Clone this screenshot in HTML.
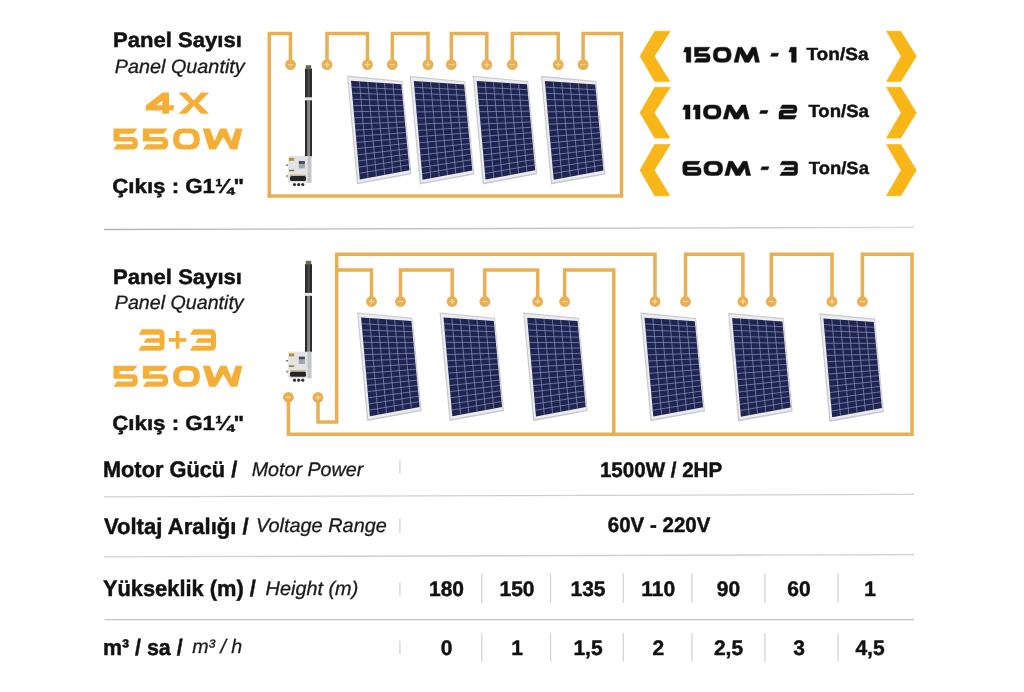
<!DOCTYPE html>
<html><head><meta charset="utf-8"><style>
html,body{margin:0;padding:0;background:#fff;}
svg{display:block;font-family:"Liberation Sans",sans-serif;filter:blur(0.5px);}
</style></head><body>
<svg width="1024" height="692" viewBox="0 0 1024 692">
<rect width="1024" height="692" fill="#ffffff"/>
<defs><linearGradient id="sg" gradientUnits="userSpaceOnUse" x1="104" y1="0" x2="914" y2="0"><stop offset="0" stop-color="#b4b4b4"/><stop offset="1" stop-color="#d6d6d6"/></linearGradient></defs>
<path d="M104,229.5 L914,227.4" stroke="url(#sg)" stroke-width="1.4"/>
<path d="M104,496.9 L914,494.4" stroke="#d0d0d0" stroke-width="1.3"/>
<path d="M104,556.9 L914,554.6" stroke="#d0d0d0" stroke-width="1.3"/>
<path d="M104.9,619.6 L914,619.6" stroke="#c6c6c6" stroke-width="1.3"/>
<path d="M399.9,460.3 L399.9,474" stroke="#d4d4d4" stroke-width="1.3"/>
<path d="M399.9,518 L399.9,533.1" stroke="#d4d4d4" stroke-width="1.3"/>
<path d="M399.9,582 L399.9,595.5" stroke="#d4d4d4" stroke-width="1.3"/>
<path d="M399.9,640.7 L399.9,654" stroke="#d4d4d4" stroke-width="1.3"/>
<path d="M481.7,573.5 L481.7,603" stroke="#d4d4d4" stroke-width="1.3"/>
<path d="M481.7,633 L481.7,661.5" stroke="#d4d4d4" stroke-width="1.3"/>
<path d="M550.5,573.5 L550.5,603" stroke="#d4d4d4" stroke-width="1.3"/>
<path d="M550.5,633 L550.5,661.5" stroke="#d4d4d4" stroke-width="1.3"/>
<path d="M623.3,573.5 L623.3,603" stroke="#d4d4d4" stroke-width="1.3"/>
<path d="M623.3,633 L623.3,661.5" stroke="#d4d4d4" stroke-width="1.3"/>
<path d="M691.9,573.5 L691.9,603" stroke="#d4d4d4" stroke-width="1.3"/>
<path d="M691.9,633 L691.9,661.5" stroke="#d4d4d4" stroke-width="1.3"/>
<path d="M764.9,573.5 L764.9,603" stroke="#d4d4d4" stroke-width="1.3"/>
<path d="M764.9,633 L764.9,661.5" stroke="#d4d4d4" stroke-width="1.3"/>
<path d="M838,573.5 L838,603" stroke="#d4d4d4" stroke-width="1.3"/>
<path d="M838,633 L838,661.5" stroke="#d4d4d4" stroke-width="1.3"/>
<path d="M269.3,196 L269.3,33.4 L290.5,33.4 L290.5,64.6" fill="none" stroke="#E9AF52" stroke-width="3.5" stroke-linejoin="miter" stroke-linecap="square"/>
<path d="M327,64.6 L327,33.4 L367.5,33.4 L367.5,64.6" fill="none" stroke="#E9AF52" stroke-width="3.5" stroke-linejoin="miter" stroke-linecap="square"/>
<path d="M392.3,64.6 L392.3,33.4 L428,33.4 L428,64.6" fill="none" stroke="#E9AF52" stroke-width="3.5" stroke-linejoin="miter" stroke-linecap="square"/>
<path d="M451.3,64.6 L451.3,33.4 L486.8,33.4 L486.8,64.6" fill="none" stroke="#E9AF52" stroke-width="3.5" stroke-linejoin="miter" stroke-linecap="square"/>
<path d="M512.3,64.6 L512.3,33.4 L558.2,33.4 L558.2,64.6" fill="none" stroke="#E9AF52" stroke-width="3.5" stroke-linejoin="miter" stroke-linecap="square"/>
<path d="M583.1,64.6 L583.1,33.4 L621.5,33.4 L621.5,196 L269.3,196" fill="none" stroke="#E9AF52" stroke-width="3.5" stroke-linejoin="miter" stroke-linecap="square"/>
<path d="M288.4,397.3 L288.4,434.3 L912,434.3 L912,254.2 L862.4,254.2 L862.4,301.5" fill="none" stroke="#E9AF52" stroke-width="3.5" stroke-linejoin="miter" stroke-linecap="square"/>
<path d="M318,397.5 L318,422 L336.7,422 L336.7,254.2 L655,254.2 L655,301.5" fill="none" stroke="#E9AF52" stroke-width="3.5" stroke-linejoin="miter" stroke-linecap="square"/>
<path d="M336.7,269.9 L371.5,269.9 L371.5,301.5" fill="none" stroke="#E9AF52" stroke-width="3.5" stroke-linejoin="miter" stroke-linecap="square"/>
<path d="M400.5,301.5 L400.5,269.9 L452.2,269.9 L452.2,301.5" fill="none" stroke="#E9AF52" stroke-width="3.5" stroke-linejoin="miter" stroke-linecap="square"/>
<path d="M484.8,301.5 L484.8,269.9 L537.7,269.9 L537.7,301.5" fill="none" stroke="#E9AF52" stroke-width="3.5" stroke-linejoin="miter" stroke-linecap="square"/>
<path d="M564.6,301.5 L564.6,269.9 L613.8,269.9 L613.8,434.3" fill="none" stroke="#E9AF52" stroke-width="3.5" stroke-linejoin="miter" stroke-linecap="square"/>
<path d="M685.5,301.5 L685.5,254.2 L742.9,254.2 L742.9,301.5" fill="none" stroke="#E9AF52" stroke-width="3.5" stroke-linejoin="miter" stroke-linecap="square"/>
<path d="M771.3,301.5 L771.3,254.2 L832,254.2 L832,301.5" fill="none" stroke="#E9AF52" stroke-width="3.5" stroke-linejoin="miter" stroke-linecap="square"/>
<circle cx="290.5" cy="64.6" r="5.4" fill="#E9AF52"/>
<path d="M287.9,64.6 h5.2" stroke="#F9DCA0" stroke-width="1.2"/>
<circle cx="327" cy="64.6" r="5.4" fill="#E9AF52"/>
<path d="M324.4,64.6 h5.2" stroke="#F9DCA0" stroke-width="1.2"/>
<path d="M327,61.99999999999999 v5.2" stroke="#F9DCA0" stroke-width="1.2"/>
<circle cx="367.5" cy="64.6" r="5.4" fill="#E9AF52"/>
<path d="M364.9,64.6 h5.2" stroke="#F9DCA0" stroke-width="1.2"/>
<path d="M367.5,61.99999999999999 v5.2" stroke="#F9DCA0" stroke-width="1.2"/>
<circle cx="392.3" cy="64.6" r="5.4" fill="#E9AF52"/>
<path d="M389.7,64.6 h5.2" stroke="#F9DCA0" stroke-width="1.2"/>
<circle cx="428" cy="64.6" r="5.4" fill="#E9AF52"/>
<path d="M425.4,64.6 h5.2" stroke="#F9DCA0" stroke-width="1.2"/>
<path d="M428,61.99999999999999 v5.2" stroke="#F9DCA0" stroke-width="1.2"/>
<circle cx="451.3" cy="64.6" r="5.4" fill="#E9AF52"/>
<path d="M448.7,64.6 h5.2" stroke="#F9DCA0" stroke-width="1.2"/>
<circle cx="486.8" cy="64.6" r="5.4" fill="#E9AF52"/>
<path d="M484.2,64.6 h5.2" stroke="#F9DCA0" stroke-width="1.2"/>
<path d="M486.8,61.99999999999999 v5.2" stroke="#F9DCA0" stroke-width="1.2"/>
<circle cx="512.3" cy="64.6" r="5.4" fill="#E9AF52"/>
<path d="M509.69999999999993,64.6 h5.2" stroke="#F9DCA0" stroke-width="1.2"/>
<circle cx="558.2" cy="64.6" r="5.4" fill="#E9AF52"/>
<path d="M555.6,64.6 h5.2" stroke="#F9DCA0" stroke-width="1.2"/>
<path d="M558.2,61.99999999999999 v5.2" stroke="#F9DCA0" stroke-width="1.2"/>
<circle cx="583.1" cy="64.6" r="5.4" fill="#E9AF52"/>
<path d="M580.5,64.6 h5.2" stroke="#F9DCA0" stroke-width="1.2"/>
<circle cx="371.5" cy="301.5" r="5.4" fill="#E9AF52"/>
<path d="M368.9,301.5 h5.2" stroke="#F9DCA0" stroke-width="1.2"/>
<path d="M371.5,298.9 v5.2" stroke="#F9DCA0" stroke-width="1.2"/>
<circle cx="400.5" cy="301.5" r="5.4" fill="#E9AF52"/>
<path d="M397.9,301.5 h5.2" stroke="#F9DCA0" stroke-width="1.2"/>
<circle cx="452.2" cy="301.5" r="5.4" fill="#E9AF52"/>
<path d="M449.59999999999997,301.5 h5.2" stroke="#F9DCA0" stroke-width="1.2"/>
<path d="M452.2,298.9 v5.2" stroke="#F9DCA0" stroke-width="1.2"/>
<circle cx="484.8" cy="301.5" r="5.4" fill="#E9AF52"/>
<path d="M482.2,301.5 h5.2" stroke="#F9DCA0" stroke-width="1.2"/>
<circle cx="537.7" cy="301.5" r="5.4" fill="#E9AF52"/>
<path d="M535.1,301.5 h5.2" stroke="#F9DCA0" stroke-width="1.2"/>
<path d="M537.7,298.9 v5.2" stroke="#F9DCA0" stroke-width="1.2"/>
<circle cx="564.6" cy="301.5" r="5.4" fill="#E9AF52"/>
<path d="M562.0,301.5 h5.2" stroke="#F9DCA0" stroke-width="1.2"/>
<circle cx="655" cy="301.5" r="5.4" fill="#E9AF52"/>
<path d="M652.4,301.5 h5.2" stroke="#F9DCA0" stroke-width="1.2"/>
<path d="M655,298.9 v5.2" stroke="#F9DCA0" stroke-width="1.2"/>
<circle cx="685.5" cy="301.5" r="5.4" fill="#E9AF52"/>
<path d="M682.9,301.5 h5.2" stroke="#F9DCA0" stroke-width="1.2"/>
<circle cx="742.9" cy="301.5" r="5.4" fill="#E9AF52"/>
<path d="M740.3,301.5 h5.2" stroke="#F9DCA0" stroke-width="1.2"/>
<path d="M742.9,298.9 v5.2" stroke="#F9DCA0" stroke-width="1.2"/>
<circle cx="771.3" cy="301.5" r="5.4" fill="#E9AF52"/>
<path d="M768.6999999999999,301.5 h5.2" stroke="#F9DCA0" stroke-width="1.2"/>
<circle cx="832" cy="301.5" r="5.4" fill="#E9AF52"/>
<path d="M829.4,301.5 h5.2" stroke="#F9DCA0" stroke-width="1.2"/>
<path d="M832,298.9 v5.2" stroke="#F9DCA0" stroke-width="1.2"/>
<circle cx="862.4" cy="301.5" r="5.4" fill="#E9AF52"/>
<path d="M859.8,301.5 h5.2" stroke="#F9DCA0" stroke-width="1.2"/>
<circle cx="288.4" cy="397.3" r="5.4" fill="#E9AF52"/>
<path d="M285.79999999999995,397.3 h5.2" stroke="#F9DCA0" stroke-width="1.2"/>
<circle cx="318" cy="397.5" r="5.4" fill="#E9AF52"/>
<path d="M315.4,397.5 h5.2" stroke="#F9DCA0" stroke-width="1.2"/>
<path d="M318,394.9 v5.2" stroke="#F9DCA0" stroke-width="1.2"/>
<polygon points="347.00,75.60 402.50,80.90 411.50,174.20 357.00,184.30" fill="#c9cacf"/>
<polygon points="348.23,77.01 401.78,81.94 410.27,173.00 358.21,182.42" fill="#ececef"/>
<polygon points="351.00,80.80 401.30,84.20 409.50,170.20 359.80,179.50" fill="#1e2552"/>
<path d="M359.38,81.37L368.08,177.95M367.77,81.93L376.37,176.40M376.15,82.50L384.65,174.85M384.53,83.07L392.93,173.30M392.92,83.63L401.22,171.75M351.55,86.97L401.81,89.57M352.10,93.14L402.32,94.95M352.65,99.31L402.84,100.32M353.20,105.47L403.35,105.70M353.75,111.64L403.86,111.07M354.30,117.81L404.38,116.45M354.85,123.98L404.89,121.82M355.40,130.15L405.40,127.20M355.95,136.32L405.91,132.57M356.50,142.49L406.43,137.95M357.05,148.66L406.94,143.32M357.60,154.82L407.45,148.70M358.15,160.99L407.96,154.07M358.70,167.16L408.48,159.45M359.25,173.33L408.99,164.82" stroke="#8a8fb5" stroke-width="0.85" fill="none" opacity="0.85"/>
<polygon points="409.80,75.90 465.30,81.20 474.30,174.50 419.80,184.60" fill="#c9cacf"/>
<polygon points="411.03,77.31 464.58,82.24 473.07,173.30 421.01,182.72" fill="#ececef"/>
<polygon points="413.80,81.10 464.10,84.50 472.30,170.50 422.60,179.80" fill="#1e2552"/>
<path d="M422.18,81.67L430.88,178.25M430.57,82.23L439.17,176.70M438.95,82.80L447.45,175.15M447.33,83.37L455.73,173.60M455.72,83.93L464.02,172.05M414.35,87.27L464.61,89.88M414.90,93.44L465.12,95.25M415.45,99.61L465.64,100.62M416.00,105.78L466.15,106.00M416.55,111.94L466.66,111.38M417.10,118.11L467.18,116.75M417.65,124.28L467.69,122.12M418.20,130.45L468.20,127.50M418.75,136.62L468.71,132.88M419.30,142.79L469.23,138.25M419.85,148.96L469.74,143.62M420.40,155.12L470.25,149.00M420.95,161.29L470.76,154.38M421.50,167.46L471.28,159.75M422.05,173.63L471.79,165.12" stroke="#8a8fb5" stroke-width="0.85" fill="none" opacity="0.85"/>
<polygon points="472.70,75.70 528.20,81.00 537.20,174.30 482.70,184.40" fill="#c9cacf"/>
<polygon points="473.93,77.11 527.48,82.04 535.97,173.10 483.91,182.52" fill="#ececef"/>
<polygon points="476.70,80.90 527.00,84.30 535.20,170.30 485.50,179.60" fill="#1e2552"/>
<path d="M485.08,81.47L493.78,178.05M493.47,82.03L502.07,176.50M501.85,82.60L510.35,174.95M510.23,83.17L518.63,173.40M518.62,83.73L526.92,171.85M477.25,87.07L527.51,89.67M477.80,93.24L528.02,95.05M478.35,99.41L528.54,100.42M478.90,105.58L529.05,105.80M479.45,111.74L529.56,111.17M480.00,117.91L530.08,116.55M480.55,124.08L530.59,121.93M481.10,130.25L531.10,127.30M481.65,136.42L531.61,132.68M482.20,142.59L532.12,138.05M482.75,148.76L532.64,143.43M483.30,154.93L533.15,148.80M483.85,161.09L533.66,154.18M484.40,167.26L534.18,159.55M484.95,173.43L534.69,164.93" stroke="#8a8fb5" stroke-width="0.85" fill="none" opacity="0.85"/>
<polygon points="540.90,75.80 596.40,81.10 605.40,174.40 550.90,184.50" fill="#c9cacf"/>
<polygon points="542.13,77.21 595.68,82.14 604.17,173.20 552.11,182.62" fill="#ececef"/>
<polygon points="544.90,81.00 595.20,84.40 603.40,170.40 553.70,179.70" fill="#1e2552"/>
<path d="M553.28,81.57L561.98,178.15M561.67,82.13L570.27,176.60M570.05,82.70L578.55,175.05M578.43,83.27L586.83,173.50M586.82,83.83L595.12,171.95M545.45,87.17L595.71,89.77M546.00,93.34L596.22,95.15M546.55,99.51L596.74,100.52M547.10,105.67L597.25,105.90M547.65,111.84L597.76,111.27M548.20,118.01L598.27,116.65M548.75,124.18L598.79,122.02M549.30,130.35L599.30,127.40M549.85,136.52L599.81,132.77M550.40,142.69L600.32,138.15M550.95,148.86L600.84,143.52M551.50,155.02L601.35,148.90M552.05,161.19L601.86,154.27M552.60,167.36L602.38,159.65M553.15,173.53L602.89,165.02" stroke="#8a8fb5" stroke-width="0.85" fill="none" opacity="0.85"/>
<polygon points="357.10,312.40 412.60,317.70 421.60,411.00 367.10,421.10" fill="#c9cacf"/>
<polygon points="358.33,313.81 411.88,318.74 420.37,409.80 368.31,419.22" fill="#ececef"/>
<polygon points="361.10,317.60 411.40,321.00 419.60,407.00 369.90,416.30" fill="#1e2552"/>
<path d="M369.48,318.17L378.18,414.75M377.87,318.73L386.47,413.20M386.25,319.30L394.75,411.65M394.63,319.87L403.03,410.10M403.02,320.43L411.32,408.55M361.65,323.77L411.91,326.38M362.20,329.94L412.43,331.75M362.75,336.11L412.94,337.12M363.30,342.27L413.45,342.50M363.85,348.44L413.96,347.88M364.40,354.61L414.48,353.25M364.95,360.78L414.99,358.62M365.50,366.95L415.50,364.00M366.05,373.12L416.01,369.38M366.60,379.29L416.53,374.75M367.15,385.46L417.04,380.12M367.70,391.62L417.55,385.50M368.25,397.79L418.06,390.88M368.80,403.96L418.58,396.25M369.35,410.13L419.09,401.62" stroke="#8a8fb5" stroke-width="0.85" fill="none" opacity="0.85"/>
<polygon points="439.50,312.40 495.00,317.70 504.00,411.00 449.50,421.10" fill="#c9cacf"/>
<polygon points="440.73,313.81 494.28,318.74 502.77,409.80 450.71,419.22" fill="#ececef"/>
<polygon points="443.50,317.60 493.80,321.00 502.00,407.00 452.30,416.30" fill="#1e2552"/>
<path d="M451.88,318.17L460.58,414.75M460.27,318.73L468.87,413.20M468.65,319.30L477.15,411.65M477.03,319.87L485.43,410.10M485.42,320.43L493.72,408.55M444.05,323.77L494.31,326.38M444.60,329.94L494.82,331.75M445.15,336.11L495.34,337.12M445.70,342.27L495.85,342.50M446.25,348.44L496.36,347.88M446.80,354.61L496.88,353.25M447.35,360.78L497.39,358.62M447.90,366.95L497.90,364.00M448.45,373.12L498.41,369.38M449.00,379.29L498.93,374.75M449.55,385.46L499.44,380.12M450.10,391.62L499.95,385.50M450.65,397.79L500.46,390.88M451.20,403.96L500.98,396.25M451.75,410.13L501.49,401.62" stroke="#8a8fb5" stroke-width="0.85" fill="none" opacity="0.85"/>
<polygon points="523.20,312.50 578.70,317.80 587.70,411.10 533.20,421.20" fill="#c9cacf"/>
<polygon points="524.43,313.91 577.98,318.84 586.47,409.90 534.41,419.32" fill="#ececef"/>
<polygon points="527.20,317.70 577.50,321.10 585.70,407.10 536.00,416.40" fill="#1e2552"/>
<path d="M535.58,318.27L544.28,414.85M543.97,318.83L552.57,413.30M552.35,319.40L560.85,411.75M560.73,319.97L569.13,410.20M569.12,320.53L577.42,408.65M527.75,323.87L578.01,326.48M528.30,330.04L578.52,331.85M528.85,336.21L579.04,337.23M529.40,342.38L579.55,342.60M529.95,348.54L580.06,347.98M530.50,354.71L580.58,353.35M531.05,360.88L581.09,358.73M531.60,367.05L581.60,364.10M532.15,373.22L582.11,369.48M532.70,379.39L582.62,374.85M533.25,385.56L583.14,380.23M533.80,391.72L583.65,385.60M534.35,397.89L584.16,390.98M534.90,404.06L584.68,396.35M535.45,410.23L585.19,401.73" stroke="#8a8fb5" stroke-width="0.85" fill="none" opacity="0.85"/>
<polygon points="640.50,312.60 696.00,317.90 705.00,411.20 650.50,421.30" fill="#c9cacf"/>
<polygon points="641.73,314.01 695.28,318.94 703.77,410.00 651.71,419.42" fill="#ececef"/>
<polygon points="644.50,317.80 694.80,321.20 703.00,407.20 653.30,416.50" fill="#1e2552"/>
<path d="M652.88,318.37L661.58,414.95M661.27,318.93L669.87,413.40M669.65,319.50L678.15,411.85M678.03,320.07L686.43,410.30M686.42,320.63L694.72,408.75M645.05,323.97L695.31,326.58M645.60,330.14L695.82,331.95M646.15,336.31L696.34,337.33M646.70,342.48L696.85,342.70M647.25,348.64L697.36,348.08M647.80,354.81L697.88,353.45M648.35,360.98L698.39,358.83M648.90,367.15L698.90,364.20M649.45,373.32L699.41,369.58M650.00,379.49L699.92,374.95M650.55,385.66L700.44,380.33M651.10,391.82L700.95,385.70M651.65,397.99L701.46,391.08M652.20,404.16L701.98,396.45M652.75,410.33L702.49,401.83" stroke="#8a8fb5" stroke-width="0.85" fill="none" opacity="0.85"/>
<polygon points="728.10,312.80 783.60,318.10 792.60,411.40 738.10,421.50" fill="#c9cacf"/>
<polygon points="729.33,314.21 782.88,319.14 791.37,410.20 739.31,419.62" fill="#ececef"/>
<polygon points="732.10,318.00 782.40,321.40 790.60,407.40 740.90,416.70" fill="#1e2552"/>
<path d="M740.48,318.57L749.18,415.15M748.87,319.13L757.47,413.60M757.25,319.70L765.75,412.05M765.63,320.27L774.03,410.50M774.02,320.83L782.32,408.95M732.65,324.17L782.91,326.78M733.20,330.34L783.42,332.15M733.75,336.51L783.94,337.53M734.30,342.68L784.45,342.90M734.85,348.84L784.96,348.28M735.40,355.01L785.48,353.65M735.95,361.18L785.99,359.02M736.50,367.35L786.50,364.40M737.05,373.52L787.01,369.77M737.60,379.69L787.52,375.15M738.15,385.86L788.04,380.52M738.70,392.03L788.55,385.90M739.25,398.19L789.06,391.27M739.80,404.36L789.58,396.65M740.35,410.53L790.09,402.02" stroke="#8a8fb5" stroke-width="0.85" fill="none" opacity="0.85"/>
<polygon points="819.40,313.30 874.90,318.60 883.90,411.90 829.40,422.00" fill="#c9cacf"/>
<polygon points="820.63,314.71 874.18,319.64 882.67,410.70 830.61,420.12" fill="#ececef"/>
<polygon points="823.40,318.50 873.70,321.90 881.90,407.90 832.20,417.20" fill="#1e2552"/>
<path d="M831.78,319.07L840.48,415.65M840.17,319.63L848.77,414.10M848.55,320.20L857.05,412.55M856.93,320.77L865.33,411.00M865.32,321.33L873.62,409.45M823.95,324.67L874.21,327.28M824.50,330.84L874.72,332.65M825.05,337.01L875.24,338.03M825.60,343.18L875.75,343.40M826.15,349.34L876.26,348.78M826.70,355.51L876.77,354.15M827.25,361.68L877.29,359.52M827.80,367.85L877.80,364.90M828.35,374.02L878.31,370.27M828.90,380.19L878.82,375.65M829.45,386.36L879.34,381.02M830.00,392.53L879.85,386.40M830.55,398.69L880.36,391.77M831.10,404.86L880.88,397.15M831.65,411.03L881.39,402.52" stroke="#8a8fb5" stroke-width="0.85" fill="none" opacity="0.85"/>
<g transform="translate(0,0)">
<rect x="305" y="68.5" width="7" height="88" fill="#2c2c2c"/>
<rect x="307.5" y="68.5" width="2.2" height="29" fill="#4a4a4a"/>
<rect x="307.2" y="100.3" width="2.9" height="56" fill="#8a8a8a"/>
<rect x="305" y="97.3" width="7" height="3" fill="#e8e8e8"/>
<rect x="305.8" y="65.2" width="5.4" height="3.6" fill="#6b6a45"/>
<rect x="288.1" y="156.1" width="23.3" height="26.6" fill="#e2e3e5"/>
<rect x="307.6" y="156.1" width="3.8" height="26.6" fill="#c4c5c8"/>
<rect x="289" y="157.8" width="5.2" height="3" fill="#b8923c"/>
<rect x="298.8" y="161" width="6.1" height="3" fill="#4a4e58"/>
<rect x="298.8" y="164" width="6.1" height="4.4" fill="#a0a4ac"/>
<rect x="289" y="169.8" width="5.2" height="1.4" fill="#8a6a20"/>
<rect x="290" y="174.6" width="16" height="1.5" fill="#c8b48a"/>
<rect x="290" y="176.1" width="16" height="5" rx="1.5" fill="#242424"/>
<circle cx="294.5" cy="184.6" r="1.6" fill="#333"/>
<circle cx="298.7" cy="184.6" r="1.6" fill="#333"/>
<circle cx="302.8" cy="184.6" r="1.6" fill="#333"/>
<rect x="286.2" y="164.6" width="1.8" height="1.2" fill="#444"/>
<rect x="286.2" y="175" width="1.8" height="2.2" fill="#999"/>
</g>
<g transform="translate(0,195.6)">
<rect x="305" y="68.5" width="7" height="88" fill="#2c2c2c"/>
<rect x="307.5" y="68.5" width="2.2" height="29" fill="#4a4a4a"/>
<rect x="307.2" y="100.3" width="2.9" height="56" fill="#8a8a8a"/>
<rect x="305" y="97.3" width="7" height="3" fill="#e8e8e8"/>
<rect x="305.8" y="65.2" width="5.4" height="3.6" fill="#6b6a45"/>
<rect x="288.1" y="156.1" width="23.3" height="26.6" fill="#e2e3e5"/>
<rect x="307.6" y="156.1" width="3.8" height="26.6" fill="#c4c5c8"/>
<rect x="289" y="157.8" width="5.2" height="3" fill="#b8923c"/>
<rect x="298.8" y="161" width="6.1" height="3" fill="#4a4e58"/>
<rect x="298.8" y="164" width="6.1" height="4.4" fill="#a0a4ac"/>
<rect x="289" y="169.8" width="5.2" height="1.4" fill="#8a6a20"/>
<rect x="290" y="174.6" width="16" height="1.5" fill="#c8b48a"/>
<rect x="290" y="176.1" width="16" height="5" rx="1.5" fill="#242424"/>
<circle cx="294.5" cy="184.6" r="1.6" fill="#333"/>
<circle cx="298.7" cy="184.6" r="1.6" fill="#333"/>
<circle cx="302.8" cy="184.6" r="1.6" fill="#333"/>
<rect x="286.2" y="164.6" width="1.8" height="1.2" fill="#444"/>
<rect x="286.2" y="175" width="1.8" height="2.2" fill="#999"/>
</g>
<polygon points="654.7,31.2 670.3,31.2 654.3,56.35 669.9,81.5 654.7,81.5 640,56.35" fill="#F8B618" stroke="#F8B618" stroke-width="0.6" stroke-linejoin="round"/>
<polygon points="886.5,31.2 900.8,31.2 916.4,56.35 900.8,81.5 886.5,81.5 901.2,56.35" fill="#F8B618" stroke="#F8B618" stroke-width="0.6" stroke-linejoin="round"/>
<polygon points="654.7,87.3 670.3,87.3 654.3,112.69999999999999 669.9,138.1 654.7,138.1 640,112.69999999999999" fill="#F8B618" stroke="#F8B618" stroke-width="0.6" stroke-linejoin="round"/>
<polygon points="886.5,87.3 900.8,87.3 916.4,112.69999999999999 900.8,138.1 886.5,138.1 901.2,112.69999999999999" fill="#F8B618" stroke="#F8B618" stroke-width="0.6" stroke-linejoin="round"/>
<polygon points="654.7,144.5 670.3,144.5 654.3,170.15 669.9,195.8 654.7,195.8 640,170.15" fill="#F8B618" stroke="#F8B618" stroke-width="0.6" stroke-linejoin="round"/>
<polygon points="886.5,144.5 900.8,144.5 916.4,170.15 900.8,195.8 886.5,195.8 901.2,170.15" fill="#F8B618" stroke="#F8B618" stroke-width="0.6" stroke-linejoin="round"/>
<path d="M78,0 L108,0 L108,60 L133,60 L128,85 L108,85 L108,100 L77,100 L77,85 L6,85 Q0,85 0,79 L0,66 Q0,62 4,59 Z M49,60 L77,60 L77,38 Z" fill="#F5AF37" fill-rule="evenodd" transform="translate(145.6,92.6) scale(0.2165,0.2120)"/>
<path d="M0,0 L38,0 L71.5,37 L105,0 L143,0 L93,50 L143,100 L105,100 L71.5,63 L38,100 L0,100 L50,50 Z" fill="#F5AF37" fill-rule="evenodd" transform="translate(178.3,92.6) scale(0.2168,0.2120)"/>
<path d="M0,0 L112,0 L92,25 L29,25 L29,41 L88,41 Q114,41 114,67 L114,74 Q114,100 88,100 L0,100 L16,75 L85,75 Q89,75 89,71 L89,66 Q89,62 85,62 L0,62 Z" fill="#F5AF37" fill-rule="evenodd" transform="translate(113.5,128.4) scale(0.2132,0.2120)"/>
<path d="M0,0 L112,0 L92,25 L29,25 L29,41 L88,41 Q114,41 114,67 L114,74 Q114,100 88,100 L0,100 L16,75 L85,75 Q89,75 89,71 L89,66 Q89,62 85,62 L0,62 Z" fill="#F5AF37" fill-rule="evenodd" transform="translate(143,128.4) scale(0.2202,0.2120)"/>
<path d="M46,0 L80,0 Q126,0 126,50 Q126,100 80,100 L46,100 Q0,100 0,50 Q0,0 46,0 Z M50,23 Q29,23 29,50 Q29,77 50,77 L76,77 Q97,77 97,50 Q97,23 76,23 Z" fill="#F5AF37" fill-rule="evenodd" transform="translate(173,128.4) scale(0.2135,0.2120)"/>
<path d="M0,0 L33,0 L54,60 L79,0 L108,0 L131,60 L150,0 L181,0 L157,100 L127,100 L94,40 L60,100 L29,100 Z" fill="#F5AF37" fill-rule="evenodd" transform="translate(202.7,128.4) scale(0.2199,0.2120)"/>
<path d="M15,0 L95,0 Q120,0 120,25 L120,75 Q120,100 95,100 L0,100 L13,76 L97,76 L97,62 L24,62 L37,42 L97,42 L97,25 L1,25 Z" fill="#F5AF37" fill-rule="evenodd" transform="translate(138.5,329.3) scale(0.2167,0.2150)"/>
<path d="M32.5,8 L49.5,8 L49.5,40.5 L82,40.5 L82,57.5 L49.5,57.5 L49.5,90 L32.5,90 L32.5,57.5 L0,57.5 L0,40.5 L32.5,40.5 Z" fill="#F5AF37" fill-rule="evenodd" transform="translate(168.8,329.3) scale(0.2134,0.2150)"/>
<path d="M15,0 L95,0 Q120,0 120,25 L120,75 Q120,100 95,100 L0,100 L13,76 L97,76 L97,62 L24,62 L37,42 L97,42 L97,25 L1,25 Z" fill="#F5AF37" fill-rule="evenodd" transform="translate(190,329.3) scale(0.2167,0.2150)"/>
<path d="M0,0 L112,0 L92,25 L29,25 L29,41 L88,41 Q114,41 114,67 L114,74 Q114,100 88,100 L0,100 L16,75 L85,75 Q89,75 89,71 L89,66 Q89,62 85,62 L0,62 Z" fill="#F5AF37" fill-rule="evenodd" transform="translate(113.5,365.7) scale(0.2132,0.2110)"/>
<path d="M0,0 L112,0 L92,25 L29,25 L29,41 L88,41 Q114,41 114,67 L114,74 Q114,100 88,100 L0,100 L16,75 L85,75 Q89,75 89,71 L89,66 Q89,62 85,62 L0,62 Z" fill="#F5AF37" fill-rule="evenodd" transform="translate(143,365.7) scale(0.2202,0.2110)"/>
<path d="M46,0 L80,0 Q126,0 126,50 Q126,100 80,100 L46,100 Q0,100 0,50 Q0,0 46,0 Z M50,23 Q29,23 29,50 Q29,77 50,77 L76,77 Q97,77 97,50 Q97,23 76,23 Z" fill="#F5AF37" fill-rule="evenodd" transform="translate(173,365.7) scale(0.2135,0.2110)"/>
<path d="M0,0 L33,0 L54,60 L79,0 L108,0 L131,60 L150,0 L181,0 L157,100 L127,100 L94,40 L60,100 L29,100 Z" fill="#F5AF37" fill-rule="evenodd" transform="translate(202.7,365.7) scale(0.2199,0.2110)"/>
<path d="M12,0 L53,0 L53,100 L20,100 L20,32 L0,32 Z" fill="#111" fill-rule="evenodd" stroke="#111" stroke-width="0.5" vector-effect="non-scaling-stroke" stroke-linejoin="round" transform="translate(683.6,47.3) scale(0.1358,0.1500)"/>
<path d="M0,0 L112,0 L92,25 L29,25 L29,41 L88,41 Q114,41 114,67 L114,74 Q114,100 88,100 L0,100 L16,75 L85,75 Q89,75 89,71 L89,66 Q89,62 85,62 L0,62 Z" fill="#111" fill-rule="evenodd" stroke="#111" stroke-width="0.5" vector-effect="non-scaling-stroke" stroke-linejoin="round" transform="translate(694.5,47.3) scale(0.1368,0.1500)"/>
<path d="M46,0 L80,0 Q126,0 126,50 Q126,100 80,100 L46,100 Q0,100 0,50 Q0,0 46,0 Z M50,23 Q29,23 29,50 Q29,77 50,77 L76,77 Q97,77 97,50 Q97,23 76,23 Z" fill="#111" fill-rule="evenodd" stroke="#111" stroke-width="0.5" vector-effect="non-scaling-stroke" stroke-linejoin="round" transform="translate(713.2,47.3) scale(0.1429,0.1500)"/>
<path d="M0,100 L27,0 L54,0 L89,58 L123,0 L151,0 L175,100 L146,100 L136,46 L104,100 L74,100 L42,38 L29,100 Z" fill="#111" fill-rule="evenodd" stroke="#111" stroke-width="0.5" vector-effect="non-scaling-stroke" stroke-linejoin="round" transform="translate(734,47.3) scale(0.1457,0.1500)"/>
<path d="M8,39 L57,39 L49,60 L0,60 Z" fill="#111" fill-rule="evenodd" stroke="#111" stroke-width="0.5" vector-effect="non-scaling-stroke" stroke-linejoin="round" transform="translate(770.6,47.3) scale(0.1404,0.1500)"/>
<path d="M12,0 L53,0 L53,100 L20,100 L20,32 L0,32 Z" fill="#111" fill-rule="evenodd" stroke="#111" stroke-width="0.5" vector-effect="non-scaling-stroke" stroke-linejoin="round" transform="translate(788.8,47.3) scale(0.1396,0.1500)"/>
<path d="M12,0 L53,0 L53,100 L20,100 L20,32 L0,32 Z" fill="#111" fill-rule="evenodd" stroke="#111" stroke-width="0.5" vector-effect="non-scaling-stroke" stroke-linejoin="round" transform="translate(682.8,105.0) scale(0.1358,0.1410)"/>
<path d="M12,0 L53,0 L53,100 L20,100 L20,32 L0,32 Z" fill="#111" fill-rule="evenodd" stroke="#111" stroke-width="0.5" vector-effect="non-scaling-stroke" stroke-linejoin="round" transform="translate(692.9,105.0) scale(0.1340,0.1410)"/>
<path d="M46,0 L80,0 Q126,0 126,50 Q126,100 80,100 L46,100 Q0,100 0,50 Q0,0 46,0 Z M50,23 Q29,23 29,50 Q29,77 50,77 L76,77 Q97,77 97,50 Q97,23 76,23 Z" fill="#111" fill-rule="evenodd" stroke="#111" stroke-width="0.5" vector-effect="non-scaling-stroke" stroke-linejoin="round" transform="translate(703.4,105.0) scale(0.1405,0.1410)"/>
<path d="M0,100 L27,0 L54,0 L89,58 L123,0 L151,0 L175,100 L146,100 L136,46 L104,100 L74,100 L42,38 L29,100 Z" fill="#111" fill-rule="evenodd" stroke="#111" stroke-width="0.5" vector-effect="non-scaling-stroke" stroke-linejoin="round" transform="translate(723.2,105.0) scale(0.1486,0.1410)"/>
<path d="M8,39 L57,39 L49,60 L0,60 Z" fill="#111" fill-rule="evenodd" stroke="#111" stroke-width="0.5" vector-effect="non-scaling-stroke" stroke-linejoin="round" transform="translate(759.6,105.0) scale(0.1474,0.1410)"/>
<path d="M24,0 L110,0 Q134,0 134,24 L134,35 Q134,59 110,59 L32,59 L32,75 L130,75 L116,100 L0,100 L0,60 Q0,36 24,36 L110,36 L110,24 L10,24 Z" fill="#111" fill-rule="evenodd" stroke="#111" stroke-width="0.5" vector-effect="non-scaling-stroke" stroke-linejoin="round" transform="translate(779,105.0) scale(0.1336,0.1410)"/>
<path d="M30,0 L121,0 L108,23 L30,23 L30,41 L105,41 Q130,41 130,66 L130,75 Q130,100 105,100 L30,100 Q0,100 0,70 L0,30 Q0,0 30,0 Z M30,62 L30,77 L104,77 L104,62 Z" fill="#111" fill-rule="evenodd" stroke="#111" stroke-width="0.5" vector-effect="non-scaling-stroke" stroke-linejoin="round" transform="translate(682.8,161.3) scale(0.1408,0.1420)"/>
<path d="M46,0 L80,0 Q126,0 126,50 Q126,100 80,100 L46,100 Q0,100 0,50 Q0,0 46,0 Z M50,23 Q29,23 29,50 Q29,77 50,77 L76,77 Q97,77 97,50 Q97,23 76,23 Z" fill="#111" fill-rule="evenodd" stroke="#111" stroke-width="0.5" vector-effect="non-scaling-stroke" stroke-linejoin="round" transform="translate(703.8,161.3) scale(0.1500,0.1420)"/>
<path d="M0,100 L27,0 L54,0 L89,58 L123,0 L151,0 L175,100 L146,100 L136,46 L104,100 L74,100 L42,38 L29,100 Z" fill="#111" fill-rule="evenodd" stroke="#111" stroke-width="0.5" vector-effect="non-scaling-stroke" stroke-linejoin="round" transform="translate(724.7,161.3) scale(0.1480,0.1420)"/>
<path d="M8,39 L57,39 L49,60 L0,60 Z" fill="#111" fill-rule="evenodd" stroke="#111" stroke-width="0.5" vector-effect="non-scaling-stroke" stroke-linejoin="round" transform="translate(760.8,161.3) scale(0.1439,0.1420)"/>
<path d="M15,0 L95,0 Q120,0 120,25 L120,75 Q120,100 95,100 L0,100 L13,76 L97,76 L97,62 L24,62 L37,42 L97,42 L97,25 L1,25 Z" fill="#111" fill-rule="evenodd" stroke="#111" stroke-width="0.5" vector-effect="non-scaling-stroke" stroke-linejoin="round" transform="translate(780,161.3) scale(0.1467,0.1420)"/>
<text x="112.95" y="47.00" font-size="21" font-weight="bold" font-style="normal" fill="#111" stroke="#111" stroke-width="0.45" textLength="128.86" lengthAdjust="spacingAndGlyphs" text-rendering="geometricPrecision">Panel Sayısı</text>
<text x="114.80" y="72.60" font-size="19.4" font-weight="normal" font-style="italic" fill="#1a1a1a" stroke="#1a1a1a" stroke-width="0.3" textLength="129.89" lengthAdjust="spacingAndGlyphs" text-rendering="geometricPrecision">Panel Quantity</text>
<text x="112.20" y="193.00" font-size="20.3" font-weight="bold" font-style="normal" fill="#111" stroke="#111" stroke-width="0.45" textLength="132.00" lengthAdjust="spacingAndGlyphs" text-rendering="geometricPrecision">Çıkış : G1¼&quot;</text>
<text x="113.05" y="284.40" font-size="21" font-weight="bold" font-style="normal" fill="#111" stroke="#111" stroke-width="0.45" textLength="128.96" lengthAdjust="spacingAndGlyphs" text-rendering="geometricPrecision">Panel Sayısı</text>
<text x="114.80" y="309.40" font-size="19.4" font-weight="normal" font-style="italic" fill="#1a1a1a" stroke="#1a1a1a" stroke-width="0.3" textLength="128.89" lengthAdjust="spacingAndGlyphs" text-rendering="geometricPrecision">Panel Quantity</text>
<text x="112.20" y="430.20" font-size="20.3" font-weight="bold" font-style="normal" fill="#111" stroke="#111" stroke-width="0.45" textLength="132.00" lengthAdjust="spacingAndGlyphs" text-rendering="geometricPrecision">Çıkış : G1¼&quot;</text>
<text x="806.40" y="59.90" font-size="17.6" font-weight="bold" font-style="normal" fill="#111" stroke="#111" stroke-width="0.45" textLength="62.09" lengthAdjust="spacingAndGlyphs" text-rendering="geometricPrecision">Ton/Sa</text>
<text x="808.40" y="117.30" font-size="17.6" font-weight="bold" font-style="normal" fill="#111" stroke="#111" stroke-width="0.45" textLength="60.51" lengthAdjust="spacingAndGlyphs" text-rendering="geometricPrecision">Ton/Sa</text>
<text x="808.80" y="173.90" font-size="17.6" font-weight="bold" font-style="normal" fill="#111" stroke="#111" stroke-width="0.45" textLength="60.11" lengthAdjust="spacingAndGlyphs" text-rendering="geometricPrecision">Ton/Sa</text>
<text x="102.93" y="476.50" font-size="22.5" font-weight="bold" font-style="normal" fill="#111" stroke="#111" stroke-width="0.45" textLength="134.33" lengthAdjust="spacingAndGlyphs" text-rendering="geometricPrecision">Motor Gücü /</text>
<text x="251.70" y="475.90" font-size="19.6" font-weight="normal" font-style="italic" fill="#1a1a1a" stroke="#1a1a1a" stroke-width="0.3" textLength="111.57" lengthAdjust="spacingAndGlyphs" text-rendering="geometricPrecision">Motor Power</text>
<text x="103.90" y="534.00" font-size="22.5" font-weight="bold" font-style="normal" fill="#111" stroke="#111" stroke-width="0.45" textLength="144.84" lengthAdjust="spacingAndGlyphs" text-rendering="geometricPrecision">Voltaj Aralığı /</text>
<text x="255.97" y="531.90" font-size="19.6" font-weight="normal" font-style="italic" fill="#1a1a1a" stroke="#1a1a1a" stroke-width="0.3" textLength="130.85" lengthAdjust="spacingAndGlyphs" text-rendering="geometricPrecision">Voltage Range</text>
<text x="102.93" y="595.60" font-size="22.5" font-weight="bold" font-style="normal" fill="#111" stroke="#111" stroke-width="0.45" textLength="152.91" lengthAdjust="spacingAndGlyphs" text-rendering="geometricPrecision">Yükseklik (m) /</text>
<text x="265.60" y="594.50" font-size="19.6" font-weight="normal" font-style="italic" fill="#1a1a1a" stroke="#1a1a1a" stroke-width="0.3" textLength="92.67" lengthAdjust="spacingAndGlyphs" text-rendering="geometricPrecision">Height (m)</text>
<text x="102.95" y="654.60" font-size="22.5" font-weight="bold" font-style="normal" fill="#111" stroke="#111" stroke-width="0.45" textLength="79.66" lengthAdjust="spacingAndGlyphs" text-rendering="geometricPrecision">m³ / sa /</text>
<text x="192.20" y="653.00" font-size="19.6" font-weight="normal" font-style="italic" fill="#1a1a1a" stroke="#1a1a1a" stroke-width="0.3" textLength="50.08" lengthAdjust="spacingAndGlyphs" text-rendering="geometricPrecision">m³ / h</text>
<text x="599.92" y="476.90" font-size="21" font-weight="bold" font-style="normal" fill="#111" stroke="#111" stroke-width="0.45" textLength="122.29" lengthAdjust="spacingAndGlyphs" text-rendering="geometricPrecision">1500W / 2HP</text>
<text x="607.80" y="531.90" font-size="21" font-weight="bold" font-style="normal" fill="#111" stroke="#111" stroke-width="0.45" textLength="102.58" lengthAdjust="spacingAndGlyphs" text-rendering="geometricPrecision">60V - 220V</text>
<text x="446.5" y="595.90" font-size="21" font-weight="bold" fill="#111" stroke="#111" stroke-width="0.45" text-anchor="middle" text-rendering="geometricPrecision">180</text>
<text x="517" y="595.90" font-size="21" font-weight="bold" fill="#111" stroke="#111" stroke-width="0.45" text-anchor="middle" text-rendering="geometricPrecision">150</text>
<text x="588" y="595.90" font-size="21" font-weight="bold" fill="#111" stroke="#111" stroke-width="0.45" text-anchor="middle" text-rendering="geometricPrecision">135</text>
<text x="658.3" y="595.90" font-size="21" font-weight="bold" fill="#111" stroke="#111" stroke-width="0.45" text-anchor="middle" text-rendering="geometricPrecision">110</text>
<text x="728.5" y="595.90" font-size="21" font-weight="bold" fill="#111" stroke="#111" stroke-width="0.45" text-anchor="middle" text-rendering="geometricPrecision">90</text>
<text x="799" y="595.90" font-size="21" font-weight="bold" fill="#111" stroke="#111" stroke-width="0.45" text-anchor="middle" text-rendering="geometricPrecision">60</text>
<text x="870" y="595.90" font-size="21" font-weight="bold" fill="#111" stroke="#111" stroke-width="0.45" text-anchor="middle" text-rendering="geometricPrecision">1</text>
<text x="446.5" y="654.80" font-size="21" font-weight="bold" fill="#111" stroke="#111" stroke-width="0.45" text-anchor="middle" text-rendering="geometricPrecision">0</text>
<text x="517" y="654.80" font-size="21" font-weight="bold" fill="#111" stroke="#111" stroke-width="0.45" text-anchor="middle" text-rendering="geometricPrecision">1</text>
<text x="588" y="654.80" font-size="21" font-weight="bold" fill="#111" stroke="#111" stroke-width="0.45" text-anchor="middle" text-rendering="geometricPrecision">1,5</text>
<text x="658.3" y="654.80" font-size="21" font-weight="bold" fill="#111" stroke="#111" stroke-width="0.45" text-anchor="middle" text-rendering="geometricPrecision">2</text>
<text x="728.5" y="654.80" font-size="21" font-weight="bold" fill="#111" stroke="#111" stroke-width="0.45" text-anchor="middle" text-rendering="geometricPrecision">2,5</text>
<text x="799" y="654.80" font-size="21" font-weight="bold" fill="#111" stroke="#111" stroke-width="0.45" text-anchor="middle" text-rendering="geometricPrecision">3</text>
<text x="870" y="654.80" font-size="21" font-weight="bold" fill="#111" stroke="#111" stroke-width="0.45" text-anchor="middle" text-rendering="geometricPrecision">4,5</text>
</svg>
</body></html>
